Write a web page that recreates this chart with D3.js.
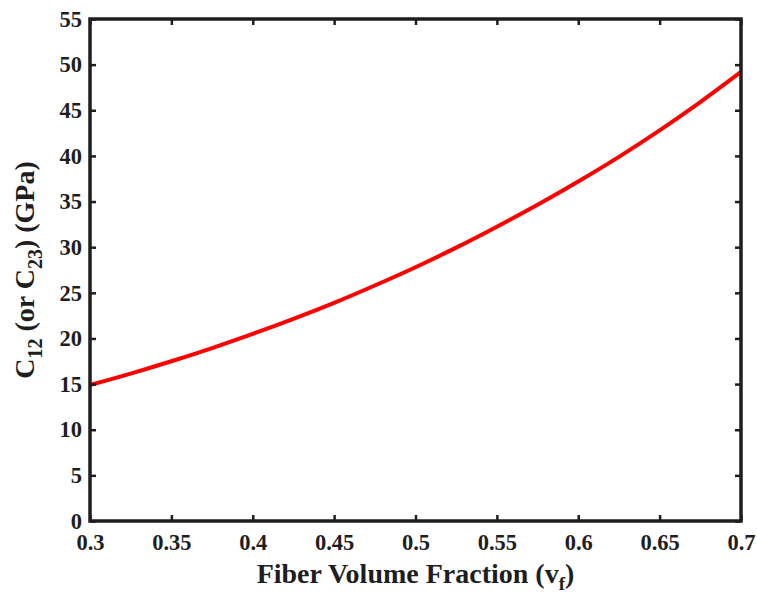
<!DOCTYPE html>
<html>
<head>
<meta charset="utf-8">
<script src="https://cdn.jsdelivr.net/npm/d3@7/dist/d3.min.js"></script>
<style>
  html, body { margin: 0; padding: 0; background: #fff; }
  svg { display: block; }
  text { font-family: "Liberation Serif", "Times New Roman", serif; font-weight: bold; fill: #1e1e1e; }
</style>
</head>
<body>
<svg id="chart" width="757" height="599"></svg>
<script>
// Fiber volume fraction samples and the matching stiffness C12 (= C23), GPa
const fiberFraction = [0.30, 0.325, 0.35, 0.375, 0.40, 0.425, 0.45, 0.475, 0.50,
                       0.525, 0.55, 0.575, 0.60, 0.625, 0.65, 0.675, 0.70];
const stiffnessC12 = [14.9, 16.15, 17.5, 18.95, 20.5, 22.15, 23.9, 25.8, 27.8,
                      29.95, 32.25, 34.65, 37.2, 39.9, 42.8, 45.9, 49.2];

const xTickValues = [0.3, 0.35, 0.4, 0.45, 0.5, 0.55, 0.6, 0.65, 0.7];
const xTickLabels = ["0.3", "0.35", "0.4", "0.45", "0.5", "0.55", "0.6", "0.65", "0.7"];
const yTickValues = [0, 5, 10, 15, 20, 25, 30, 35, 40, 45, 50, 55];

const svg = d3.select("#chart");
const margin = { left: 90, right: 16, top: 19, bottom: 78 };
const W = 757, H = 599;
const plotW = W - margin.left - margin.right;
const plotH = H - margin.top - margin.bottom;

const x = d3.scaleLinear().domain([0.3, 0.7]).range([0, plotW]);
const y = d3.scaleLinear().domain([0, 55]).range([plotH, 0]);

const g = svg.append("g").attr("transform", `translate(${margin.left},${margin.top})`);

// curve
const line = d3.line()
  .x((d, i) => x(fiberFraction[i]))
  .y(d => y(d))
  .curve(d3.curveMonotoneX);

g.append("path")
  .datum(stiffnessC12)
  .attr("d", line)
  .attr("fill", "none")
  .attr("stroke", "#ff0000")
  .attr("stroke-width", 4);

// axes with inward ticks, mirrored on top and right
const tickLen = 6;
const axisColor = "#1e1e1e";

function styleAxis(sel) {
  sel.select(".domain").remove();
  sel.selectAll(".tick line").attr("stroke", axisColor).attr("stroke-width", 2.5);
}

const xAxis = g.append("g")
  .attr("transform", `translate(0,${plotH})`)
  .call(d3.axisBottom(x).tickValues(xTickValues)
    .tickFormat((d, i) => xTickLabels[i])
    .tickSizeInner(-tickLen).tickSizeOuter(0).tickPadding(13));
styleAxis(xAxis);
xAxis.selectAll(".tick text").attr("font-size", 22.5).attr("fill", axisColor)
  .attr("font-family", "Liberation Serif").attr("font-weight", "bold");

const xAxisTop = g.append("g")
  .call(d3.axisTop(x).tickValues(xTickValues).tickFormat("")
    .tickSizeInner(-tickLen).tickSizeOuter(0));
styleAxis(xAxisTop);

const yAxis = g.append("g")
  .call(d3.axisLeft(y).tickValues(yTickValues).tickFormat(d3.format("d"))
    .tickSizeInner(-tickLen).tickSizeOuter(0).tickPadding(8));
styleAxis(yAxis);
yAxis.selectAll(".tick text").attr("font-size", 22.5).attr("fill", axisColor)
  .attr("font-family", "Liberation Serif").attr("font-weight", "bold");

const yAxisRight = g.append("g")
  .attr("transform", `translate(${plotW},0)`)
  .call(d3.axisRight(y).tickValues(yTickValues).tickFormat("")
    .tickSizeInner(-tickLen).tickSizeOuter(0));
styleAxis(yAxisRight);

// frame
g.append("rect")
  .attr("x", 0).attr("y", 0)
  .attr("width", plotW).attr("height", plotH)
  .attr("fill", "none")
  .attr("stroke", axisColor)
  .attr("stroke-width", 3.5);

// x-axis title
const xt = svg.append("text")
  .attr("x", margin.left + plotW / 2)
  .attr("y", 583)
  .attr("text-anchor", "middle")
  .attr("font-size", 28);
xt.append("tspan").text("Fiber Volume Fraction (v");
xt.append("tspan").attr("font-size", 19).attr("dy", 7).text("f");
xt.append("tspan").attr("dy", -7).text(")");

// y-axis title
const yt = svg.append("text")
  .attr("transform", `translate(34,${margin.top + plotH / 2}) rotate(-90)`)
  .attr("text-anchor", "middle")
  .attr("font-size", 28);
yt.append("tspan").text("C");
yt.append("tspan").attr("font-size", 20).attr("dy", 8).text("12");
yt.append("tspan").attr("dy", -8).text(" (or C");
yt.append("tspan").attr("font-size", 20).attr("dy", 8).text("23");
yt.append("tspan").attr("dy", -8).text(") (GPa)");
</script>
</body>
</html>
